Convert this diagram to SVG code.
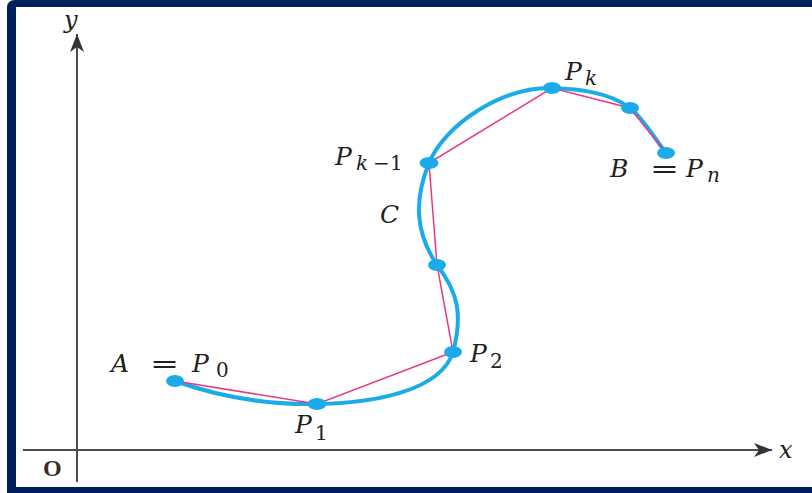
<svg xmlns="http://www.w3.org/2000/svg" width="812" height="493" viewBox="0 0 812 493">
<style>
.lbl{font-family:"DejaVu Serif","Liberation Serif",serif;font-style:italic;font-size:25px;fill:#231f20}
.up{font-style:normal}
.sub{font-size:20px}
.axis{stroke:#4d4d4d;stroke-width:2;fill:none}
.curve{stroke:#1aabe8;stroke-width:4;fill:none;stroke-linecap:round}
.chord{stroke:#e8398a;stroke-width:1.5;fill:none}
.dot{fill:#1aabe8}
</style>
<defs>
<marker id="arr" markerWidth="20" markerHeight="14" refX="18" refY="7" orient="auto" markerUnits="userSpaceOnUse">
<path d="M0,0 L18,7 L0,14 L5,7 Z" fill="#333"/>
</marker>
</defs>
<rect x="0" y="0" width="812" height="493" fill="#fff"/>
<path d="M15,0 H812 V493 H7 V8 Q7,0 15,0 Z M16,7 V487 H812 V7 Z" fill="#00205b" fill-rule="evenodd"/>

<g id="axes">
<line class="axis" x1="77" y1="482" x2="77" y2="34" marker-end="url(#arr)"/>
<line class="axis" x1="23" y1="450" x2="772" y2="450" marker-end="url(#arr)"/>
<text class="lbl" x="64" y="28" style="font-size:24px">y</text>
<text class="lbl" x="779" y="458" style="font-size:24px">x</text>
<text class="lbl up" x="43" y="476" style="font-weight:bold;font-family:'Liberation Serif',serif;font-size:24px;fill:#3a2a2a">O</text>
</g>

<g id="connectors">
<path id="curve-C" class="curve" d="M175,381 C220,397 269,405 317,404 C377,403 441,390 453,352 C463,315 458,292 437,265 C415,232 414,200 429,163 C444,126 500,87 552,88 C578,89 609,92 630,108 C644,119 655,139 666,153"/>
<polyline id="chords" class="chord" points="175,381 317,404 453,352 437,265 429,163 552,88 630,108 666,153"/>
</g>

<g id="P0"><ellipse class="dot" cx="175" cy="381" rx="9" ry="6"/>
<text class="lbl" x="111" y="372">A</text><text class="lbl up" x="150" y="372" textLength="29" lengthAdjust="spacingAndGlyphs">=</text><text class="lbl" x="192" y="372">P</text><text class="lbl up sub" x="216" y="377">0</text></g>
<g id="P1"><ellipse class="dot" cx="317" cy="404" rx="9.5" ry="6"/>
<text class="lbl" x="295" y="433">P</text><text class="lbl up sub" x="315" y="440">1</text></g>
<g id="P2"><ellipse class="dot" cx="453" cy="352" rx="9" ry="6"/>
<text class="lbl" x="470" y="362">P</text><text class="lbl up sub" x="490" y="368">2</text></g>
<g id="M"><ellipse class="dot" cx="437" cy="265" rx="9" ry="6"/></g>
<g id="Pk-1"><ellipse class="dot" cx="429" cy="163" rx="9.5" ry="6"/>
<text class="lbl" x="335" y="165">P</text><text class="lbl sub" x="356" y="170">k</text><text class="lbl up sub" x="373" y="170">−</text><text class="lbl up sub" x="390" y="170">1</text></g>
<g id="C"><text class="lbl" x="380" y="223">C</text></g>
<g id="Pk"><ellipse class="dot" cx="552" cy="88" rx="9" ry="6"/>
<text class="lbl" x="565" y="80">P</text><text class="lbl sub" x="585" y="85">k</text></g>
<g id="Q"><ellipse class="dot" cx="630" cy="108" rx="9" ry="6"/></g>
<g id="B"><ellipse class="dot" cx="666" cy="153" rx="9" ry="6"/>
<text class="lbl" x="610" y="177">B</text><text class="lbl up" x="650" y="177" textLength="29" lengthAdjust="spacingAndGlyphs">=</text><text class="lbl" x="686" y="177">P</text><text class="lbl sub" x="707" y="182">n</text></g>
</svg>
